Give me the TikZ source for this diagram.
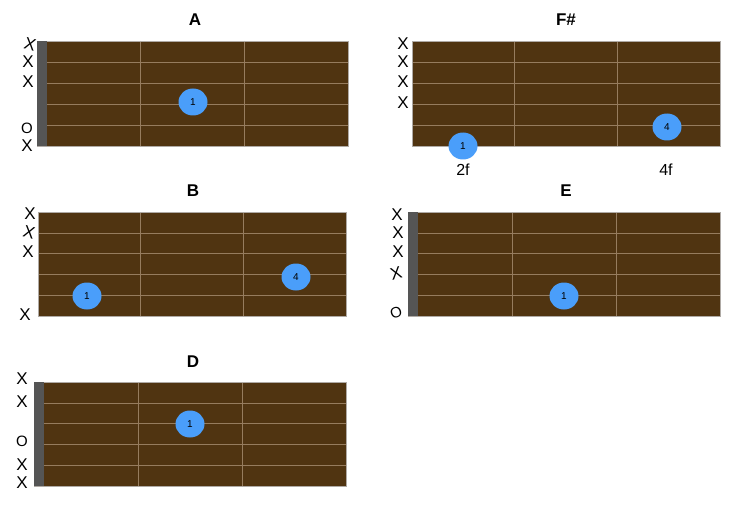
\documentclass[tikz,border=0pt]{standalone}
\usepackage{fontspec}
\setmainfont{Liberation Sans}
\usetikzlibrary{shapes.geometric}
\definecolor{boardc}{RGB}{80,52,17}
\definecolor{fretc}{RGB}{150,124,94}
\definecolor{edgec}{RGB}{175,170,165}
\definecolor{nutc}{RGB}{85,85,85}
\definecolor{dotc}{RGB}{74,158,250}
\newcommand\chordboard[4]{%
  \fill[boardc] (#1,#2) rectangle (#3,#4);
  \foreach \i in {1,...,4}{\draw[fretline] (#1,{#2+\i*(#4-#2)/5}) -- (#3,{#2+\i*(#4-#2)/5});}
  \foreach \i in {1,2}{\draw[fretline] ({#1+\i*(#3-#1)/3},#2) -- ({#1+\i*(#3-#1)/3},#4);}
  \draw[edgeline] (#1,#2) rectangle (#3,#4);
}
\newcommand\chordnut[3]{\fill[nutc] (#1,#2) rectangle ({#1+10},#3);}
\begin{document}
\begin{tikzpicture}[x=1pt,y=-1pt,
  fretline/.style={draw=fretc,line width=0.6pt},
  edgeline/.style={draw=edgec,line width=0.8pt},
  title/.style={font=\fontsize{17}{17}\selectfont\bfseries,inner sep=0pt},
  fingerdot/.style={ellipse,fill=dotc,minimum width=29pt,minimum height=27pt,inner sep=0pt,font=\fontsize{10}{10}\selectfont},
  mkx/.style={font=\fontsize{17}{17}\selectfont,inner sep=0pt},
  mko/.style={font=\fontsize{15}{15}\selectfont,inner sep=0pt},
  fretlabel/.style={font=\fontsize{16}{16}\selectfont,inner sep=0pt}]
\useasboundingbox (0,0) rectangle (743,513);
\fill[white] (0,0) rectangle (743,513);

% ---- A ----
\chordboard{37}{41}{348}{146}
\chordnut{37}{41}{146}
\node[title] (tA) at (195,20) {A};
\node[fingerdot] (a1) at (193,102) {1};
\node[mkx,rotate=-15] (aX1) at (30,44) {X};
\node[mkx] (aX2) at (28,62) {X};
\node[mkx] (aX3) at (28,82) {X};
\node[mko] (aO5) at (27,128) {O};
\node[mkx] (aX6) at (27,146) {X};

% ---- F# ----
\chordboard{412}{41}{720}{146}
\node[title] (tF) at (566,20) {F\#};
\node[fingerdot] (f1) at (463,146) {1};
\node[fingerdot] (f4) at (667,127) {4};
\node[mkx] (fX1) at (403,44) {X};
\node[mkx] (fX2) at (403,62) {X};
\node[mkx] (fX3) at (403,82) {X};
\node[mkx] (fX4) at (403,103) {X};
\node[fretlabel] (f2f) at (463,170) {2f};
\node[fretlabel] (f4f) at (666,170) {4f};

% ---- B ----
\chordboard{38}{212}{346}{316}
\node[title] (tB) at (193,191) {B};
\node[fingerdot] (b1) at (87,296) {1};
\node[fingerdot] (b4) at (296,277) {4};
\node[mkx] (bX1) at (30,214) {X};
\node[mkx,rotate=-15] (bX2) at (29,232) {X};
\node[mkx] (bX3) at (28,252) {X};
\node[mkx] (bX6) at (25,315) {X};

% ---- E ----
\chordboard{408}{212}{720}{316}
\chordnut{408}{212}{316}
\node[title] (tE) at (566,191) {E};
\node[fingerdot] (e1) at (564,296) {1};
\node[mkx] (eX1) at (397,215) {X};
\node[mkx] (eX2) at (398,233) {X};
\node[mkx] (eX3) at (398,252) {X};
\node[mkx,rotate=15] (eX4) at (396,273) {X};
\node[mko,rotate=20] (eO6) at (396,313) {O};

% ---- D ----
\chordboard{34}{382}{346}{486}
\chordnut{34}{382}{486}
\node[title] (tD) at (193,362) {D};
\node[fingerdot] (d1) at (190,424) {1};
\node[mkx] (dX1) at (22,379) {X};
\node[mkx] (dX2) at (22,402) {X};
\node[mko] (dO3) at (22,441) {O};
\node[mkx] (dX4) at (22,465) {X};
\node[mkx] (dX5) at (22,483) {X};
\end{tikzpicture}
\end{document}
